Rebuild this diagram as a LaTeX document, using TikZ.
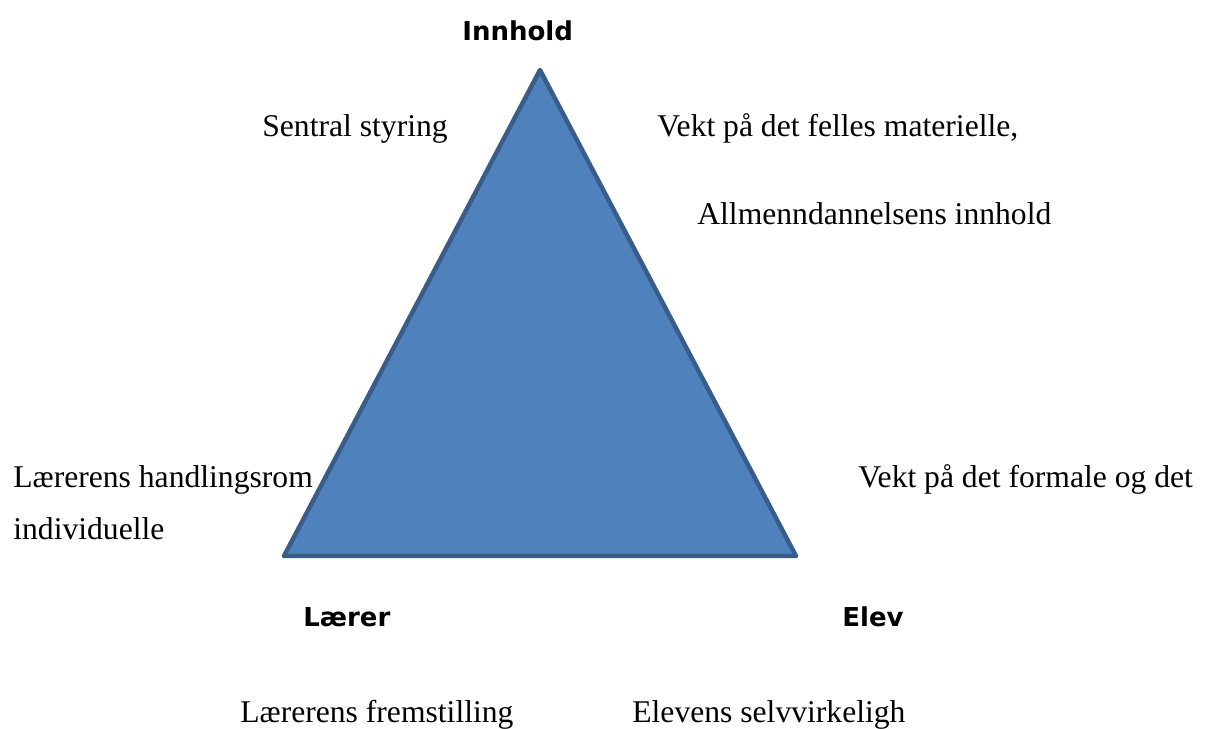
\documentclass[tikz,border=0pt]{standalone}
\usepackage{fontspec}
\setmainfont{Liberation Serif}
\newfontfamily\hjornefont{DejaVu Sans}
\usetikzlibrary{positioning}
\definecolor{trekantfyll}{HTML}{4F81BD}
\definecolor{trekantkant}{HTML}{385D8A}
\tikzset{
  tekst/.style={anchor=base west,inner sep=0pt,font=\fontsize{18}{22}\selectfont},
  hjorne/.style={anchor=base west,inner sep=0pt,font=\hjornefont\bfseries\fontsize{14.8}{18}\selectfont}
}
\begin{document}
\begin{tikzpicture}[x=0.02cm,y=-0.02cm]
        \useasboundingbox (0,0) rectangle (1211,729);
        \coordinate (topp) at (540,70);
        \coordinate (venstre) at (284,556);
        \coordinate (hoyre) at (796,556);
        \draw[trekantkant,fill=trekantfyll,line width=0.09cm,line join=round] (topp)--(hoyre)--(venstre)--cycle;
        % hjorner
        \node[hjorne] (innhold) at (462,41) {Innhold};
        \node[hjorne] (laerer) at (303,626) {Lærer};
        \node[hjorne] (elev) at (842,626) {Elev};
        % tekster
        \node[tekst] (sentral) at (262,137) {Sentral styring};
        \node[tekst] (felles) at (657,137) {Vekt på det felles materielle,};
        \node[tekst] (allmenn) at (697,225) {Allmenndannelsens innhold};
        \node[tekst] (handling) at (13,488) {Lærerens handlingsrom};
        \node[tekst] (individ) at (13,540) {individuelle};
        \node[tekst] (formale) at (858,488) {Vekt på det formale og det};
        \node[tekst] (fremstilling) at (240,722) {Lærerens fremstilling};
        \node[tekst] (selvvirk) at (632,722) {Elevens selvvirkeligh};
      \end{tikzpicture}
\end{document}
